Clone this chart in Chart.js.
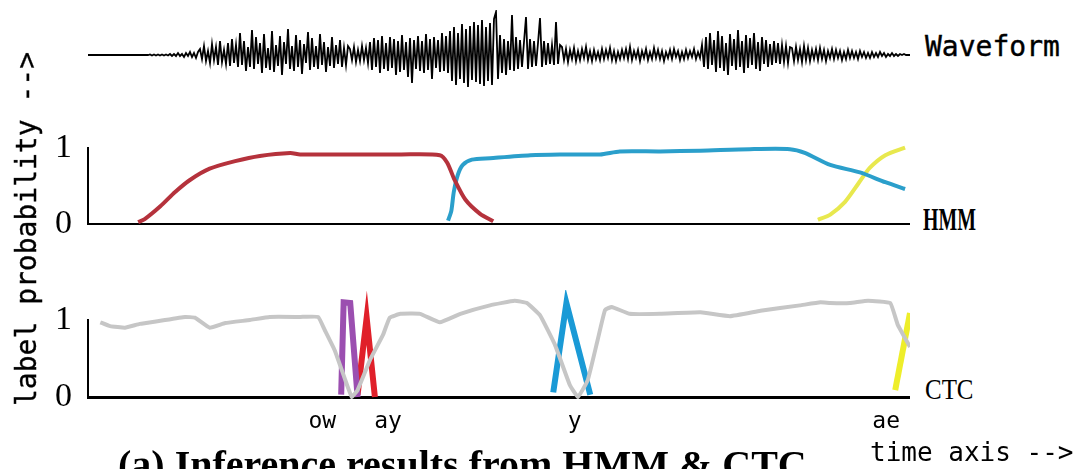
<!DOCTYPE html>
<html>
<head>
<meta charset="utf-8">
<script src="https://cdn.jsdelivr.net/npm/chart.js@4.4.1/dist/chart.umd.min.js"></script>
<style>
  html, body { margin: 0; padding: 0; background: #fff; }
  body { width: 1089px; height: 469px; overflow: hidden; position: relative; }
  .box { position: absolute; }
  .txt { position: absolute; white-space: nowrap; color: #000; }
  .mono { font-family: "DejaVu Sans Mono", monospace; }
  .serif { font-family: "Liberation Serif", serif; }
</style>
</head>
<body>
<div class="box" id="waveBox" style="left:88px; top:10px; width:822px; height:90px;"><canvas id="waveChart"></canvas></div>
<div class="box" id="hmmBox" style="left:40px; top:120px; width:870px; height:132px;"><canvas id="hmmChart"></canvas></div>
<div class="box" id="ctcBox" style="left:40px; top:290px; width:870px; height:150px;"><canvas id="ctcChart"></canvas></div>

<div class="txt mono" style="left:925px; top:30px; font-size:28px; line-height:34px; -webkit-text-stroke:0.4px #000;">Waveform</div>
<div class="txt serif" style="left:923px; top:203px; font-size:31px; line-height:34px; font-weight:bold; transform:scaleX(0.64); transform-origin:left center;">HMM</div>
<div class="txt serif" style="left:925px; top:373px; font-size:29px; line-height:32px; transform:scaleX(0.86); transform-origin:left center;">CTC</div>
<div class="txt mono" style="left:-153px; top:214px; width:360px; text-align:center; font-size:28px; line-height:30px; transform:rotate(-90deg); -webkit-text-stroke:0.3px #000;">label probability --&gt;</div>
<div class="txt mono" style="left:870px; top:437px; font-size:26px; line-height:30px;">time axis --&gt;</div>
<div class="txt serif" style="left:118px; top:443px; font-size:40px; line-height:44px; font-weight:bold;">(a) Inference results from HMM &amp; CTC</div>

<script>
// ---- waveform amplitude (1 sample ~ 2px) ----
const wave = [
  // silence
  0,0,0,0,0,0,0,0,0,0,0,0,0,0,0,0,0,0,0,0,0,0,0,0,0,0,0,0,0,0,0,
  0.5,-0.5,0.5,-0.5,0.5,-0.5,0.5,-0.5,0.5,-0.5,
  // onset
  1,-1,1,-1,2,-1,1,-2,2,-1,3,-2,2,-3,3,
  6,-4,9,-6,4,-8,11,-5,8,-10,14,-7,5,-9,12,-11,16,-8,10,-12,
  22,-10,14,-16,8,-12,25,-14,18,-9,12,-18,21,-13,7,-15,24,-17,10,-11,
  19,-20,13,-9,26,-14,9,-16,20,-12,15,-19,11,-8,23,-15,17,-12,9,-14,
  21,-10,13,-17,8,-11,18,-13,10,-9,15,-12,7,-10,9,
  6,-5,8,-7,5,-6,9,-5,7,-8,
  // dense part
  13,-15,17,-12,15,-18,19,-14,12,-16,18,-13,16,-20,14,-17,20,-15,13,-22,
  17,-28,15,-14,19,-16,14,-18,21,-15,16,-24,18,-13,15,-17,22,-16,19,-18,
  24,-26,28,-30,22,-24,31,-28,26,-32,29,-25,33,-27,30,-29,35,-31,28,-26,32,-30,36,
  // spikes
  43,-24,20,-18,16,-20,14,-15, 40,-16,18,-14,15,-12,13, 38,-14,16,-12,14,-11,12, 37,-12,14,-10,12,-9,10,-10, 33,-9,10,
  // quiet
  8,-5,6,-7,5,-4,7,-6,4,-5,6,-3,8,-5,4,-6,5,-4,3,-5,
  6,-4,5,-3,7,-5,4,-6,3,-4,5,-3,6,-4,8,-5,4,-3,5,-6,
  4,-3,6,-5,3,-4,7,-3,5,-4,4,-6,3,-3,5,-4,6,-2,4,-5,
  3,-4,5,-3,4,-2,6,-4,3,-3,
  // second burst
  10,-12,18,-14,22,-10,15,-17,24,-13,19,-16,12,-20,21,-11,16,-15,25,-12,
  14,-18,20,-13,17,-10,22,-14,13,-16,18,-9,15,-12,11,-10,14,-8,12,-9,
  10,-7,9,-8,8,
  // tail
  7,-6,8,-5,6,-7,9,-5,7,-6,5,-4,6,-5,7,-4,5,-6,4,-3,
  6,-4,5,-3,4,-5,3,-4,5,-3,4,-3,3,-4,4,-2,3,-3,2,-3,
  3,-2,2,-2,3,-1,2,-2,1,-1,2,-1,1,-1,1,0,1,0,0,0
];

// ---- HMM posteriors (time 0..100) ----
const hmmRedT  = [6.1, 6.9, 8.8, 10.6, 12.4, 14.8, 17.9, 20.9, 24.6, 25.8, 31.9, 38.0, 42.8, 43.7, 44.6, 45.9, 47.7, 49.3];
const hmmRedP  = [0.02, 0.06, 0.23, 0.42, 0.58, 0.73, 0.83, 0.90, 0.94, 0.92, 0.92, 0.92, 0.91, 0.81, 0.58, 0.32, 0.13, 0.03];
const hmmBlueT = [43.8, 44.2, 44.5, 45.0, 45.6, 46.7, 48.9, 53.8, 57.4, 62.3, 64.7, 69.6, 74.5, 80.5, 85.4, 87.2, 90.3, 93.9, 97.0, 99.4];
const hmmBlueP = [0.04, 0.17, 0.42, 0.65, 0.78, 0.85, 0.87, 0.91, 0.92, 0.92, 0.96, 0.96, 0.97, 0.99, 0.99, 0.94, 0.78, 0.68, 0.55, 0.46];
const hmmYelT  = [88.8, 90.3, 92.1, 93.7, 95.1, 97.0, 99.4];
const hmmYelP  = [0.05, 0.12, 0.29, 0.53, 0.74, 0.91, 1.01];

// ---- CTC outputs ----
const ctcBlankT = [1.5, 2.7, 4.5, 6.3, 8.8, 11.8, 13.0, 14.8, 16.7, 19.7, 22.1, 25.8, 28.0, 28.8, 30.0, 31.3, 32.1, 32.8, 34.3, 35.9, 36.7, 38.0, 40.4, 42.8, 45.3, 48.9, 51.9, 53.4, 55.0, 56.8, 58.6, 59.6, 60.8, 62.0, 62.9, 63.7, 65.9, 69.6, 74.5, 78.1, 81.8, 86.6, 89.1, 90.3, 92.7, 94.9, 97.6, 98.5, 100];
const ctcBlankP = [0.97, 0.92, 0.90, 0.95, 0.99, 1.04, 1.03, 0.90, 0.96, 1.00, 1.04, 1.04, 1.04, 0.87, 0.61, 0.22, 0.00, 0.09, 0.48, 0.81, 1.03, 1.08, 1.08, 0.97, 1.08, 1.19, 1.25, 1.22, 1.06, 0.68, 0.16, 0.00, 0.22, 0.74, 1.13, 1.17, 1.08, 1.08, 1.10, 1.05, 1.12, 1.19, 1.23, 1.22, 1.22, 1.25, 1.22, 0.94, 0.65];
const owT = [30.8, 31.1, 31.9, 32.8];
const owP = [0.03, 1.23, 1.22, 0.00];
const ayT = [32.8, 33.9, 34.9];
const ayP = [0.03, 1.03, 0.00];
const yT  = [56.6, 58.2, 61.1];
const yP  = [0.06, 1.22, 0.03];
const aeT = [98.2, 100];
const aeP = [0.09, 1.09];

const phonemes = ['ow', 'ay', 'y', 'ae'];
const phonemeT = [28.5, 36.5, 59.2, 97.1];

function pts(T, P) { return T.map((t, i) => ({ x: t, y: P[i] })); }

function line(T, P, color, w, tension) {
  return { data: pts(T, P), borderColor: color, borderWidth: w, pointRadius: 0, tension: tension, clip: false, fill: false };
}

const probAxis = {
  min: 0, max: 1,
  afterBuildTicks: s => { s.ticks = [{ value: 0 }, { value: 1 }]; },
  afterFit: s => { s.width = 48; },
  grid: { display: false },
  border: { display: true, color: '#000', width: 2 },
  ticks: { color: '#000', padding: 8, font: { family: 'Liberation Serif', size: 34 }, callback: v => String(v) }
};

const base = {
  responsive: true, maintainAspectRatio: false, animation: false,
  plugins: { legend: { display: false }, tooltip: { enabled: false } }
};

new Chart(document.getElementById('waveChart'), {
  type: 'line',
  data: { labels: wave.map((_, i) => i), datasets: [{ data: wave, borderColor: '#000', borderWidth: 1.8, pointRadius: 0, tension: 0, clip: false }] },
  options: Object.assign({}, base, {
    layout: { padding: 0 },
    scales: {
      x: { display: false },
      y: { display: false, min: -45, max: 45 }
    }
  })
});

new Chart(document.getElementById('hmmChart'), {
  type: 'line',
  data: {
    datasets: [
      line(hmmRedT, hmmRedP, '#b5323c', 4, 0.25),
      line(hmmBlueT, hmmBlueP, '#2b9fcb', 4, 0.25),
      line(hmmYelT, hmmYelP, '#e8e84e', 4, 0.25)
    ]
  },
  options: Object.assign({}, base, {
    layout: { padding: { top: 22, bottom: 0, left: 0, right: 0 } },
    scales: {
      x: {
        type: 'linear', min: 0, max: 100,
        afterFit: s => { s.height = 0; },
        grid: { display: false }, ticks: { display: false },
        border: { display: true, color: '#000', width: 2 }
      },
      y: probAxis
    }
  })
});

new Chart(document.getElementById('ctcChart'), {
  type: 'line',
  data: {
    datasets: [
      line(ctcBlankT, ctcBlankP, '#c6c6c6', 4, 0.1),
      line(owT, owP, '#9b4fb0', 6, 0),
      line(ayT, ayP, '#e0202a', 6, 0),
      line(yT, yP, '#1a9ad6', 6, 0),
      line(aeT, aeP, '#eeee2a', 6, 0)
    ]
  },
  options: Object.assign({}, base, {
    layout: { padding: { top: 30, bottom: 0, left: 0, right: 0 } },
    scales: {
      x: {
        type: 'linear', min: 0, max: 100,
        afterBuildTicks: s => { s.ticks = phonemeT.map(v => ({ value: v })); },
        afterFit: s => { s.height = 43; },
        grid: { display: false },
        border: { display: true, color: '#000', width: 3 },
        ticks: {
          color: '#000', padding: 3, maxRotation: 0, autoSkip: false,
          font: { family: 'DejaVu Sans Mono', size: 23 },
          callback: (v, i) => phonemes[i]
        }
      },
      y: probAxis
    }
  })
});
</script>
</body>
</html>
